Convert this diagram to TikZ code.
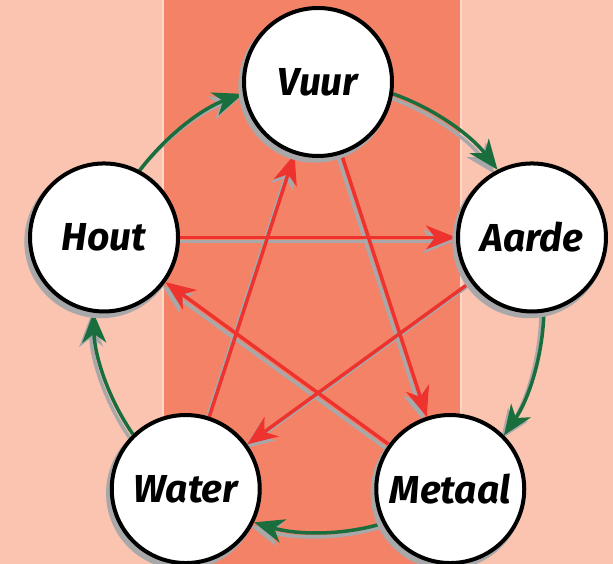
\documentclass[tikz,border=0pt]{standalone}
\usepackage{fontspec}
\setmainfont{Fira Sans}
\usetikzlibrary{arrows.meta,shadows}
\definecolor{bglight}{RGB}{250,196,176}
\definecolor{band}{RGB}{243,130,102}
\definecolor{bandedge}{RGB}{252,214,200}
\definecolor{gengreen}{RGB}{26,110,62}
\definecolor{ctrlred}{RGB}{238,50,46}
\definecolor{shade}{RGB}{168,168,170}
\pgfdeclarelayer{bg}
\pgfdeclarelayer{arrowlayer}
\pgfsetlayers{bg,arrowlayer,main}
\tikzset{
  element/.style={circle, draw=black, line width=4pt, fill=white, minimum size=148pt, inner sep=0pt,
    font=\fontsize{39}{41}\selectfont\bfseries\itshape,
    general shadow={fill=shade, shadow xshift=-3pt, shadow yshift=-4pt, shadow scale=1.035}},
  gen/.style={line width=3.5pt, -{Stealth[length=30pt,width=24pt,inset=9pt]}},
  ctrl/.style={line width=3.5pt, -{Stealth[length=30pt,width=24pt,inset=9pt]}},
}
\newcommand\genpaths[1]{%
  \draw[gen,#1] (Vuur.-9.7) to[out=-19.45,in=127.45,distance=43.6pt] (Aarde.117.7);
  \draw[gen,#1] (Aarde.-81.7) to[out=-91.45,in=55.45,distance=43.6pt] (Metaal.45.7);
  \draw[gen,#1] (Metaal.-153.7) to[out=-163.45,in=-16.55,distance=43.6pt] (Water.-26.3);
  \draw[gen,#1] (Water.134.3) to[out=124.55,in=-88.55,distance=43.6pt] (Hout.-98.3);
  \draw[gen,#1] (Hout.62.3) to[out=52.55,in=199.45,distance=43.6pt] (Vuur.189.7);
}
\newcommand\ctrlpaths[1]{%
  \draw[ctrl,#1] (Hout) -- (Aarde);
  \draw[ctrl,#1] (Aarde) -- (Water);
  \draw[ctrl,#1] (Water) -- (Vuur);
  \draw[ctrl,#1] (Vuur) -- (Metaal);
  \draw[ctrl,#1] (Metaal) -- (Hout);
}
\begin{document}
\begin{tikzpicture}[x=1pt,y=1pt]
\useasboundingbox (0,0) rectangle (613,564);
\begin{pgfonlayer}{bg}
  \fill[bglight] (0,0) rectangle (613,564);
  \fill[band] (163,0) rectangle (461,564);
  \draw[bandedge, line width=1.5pt] (163,0) -- (163,564) (461,0) -- (461,564);
\end{pgfonlayer}
\coordinate (C) at (318,257);
\node[element] (Vuur)   at ([shift={(90:225)}]C)   {Vuur};
\node[element] (Aarde)  at ([shift={(18:225)}]C)   {Aarde};
\node[element] (Metaal) at ([shift={(-54:225)}]C)  {Metaal};
\node[element] (Water)  at ([shift={(-126:225)}]C) {Water};
\node[element] (Hout)   at ([shift={(162:225)}]C)  {Hout};
\begin{pgfonlayer}{arrowlayer}
  \begin{scope}[transform canvas={shift={(-3pt,-4pt)}}]
    \genpaths{draw=shade}
    \ctrlpaths{draw=shade}
  \end{scope}
  \genpaths{draw=gengreen}
  \ctrlpaths{draw=ctrlred}
\end{pgfonlayer}
\end{tikzpicture}
\end{document}
